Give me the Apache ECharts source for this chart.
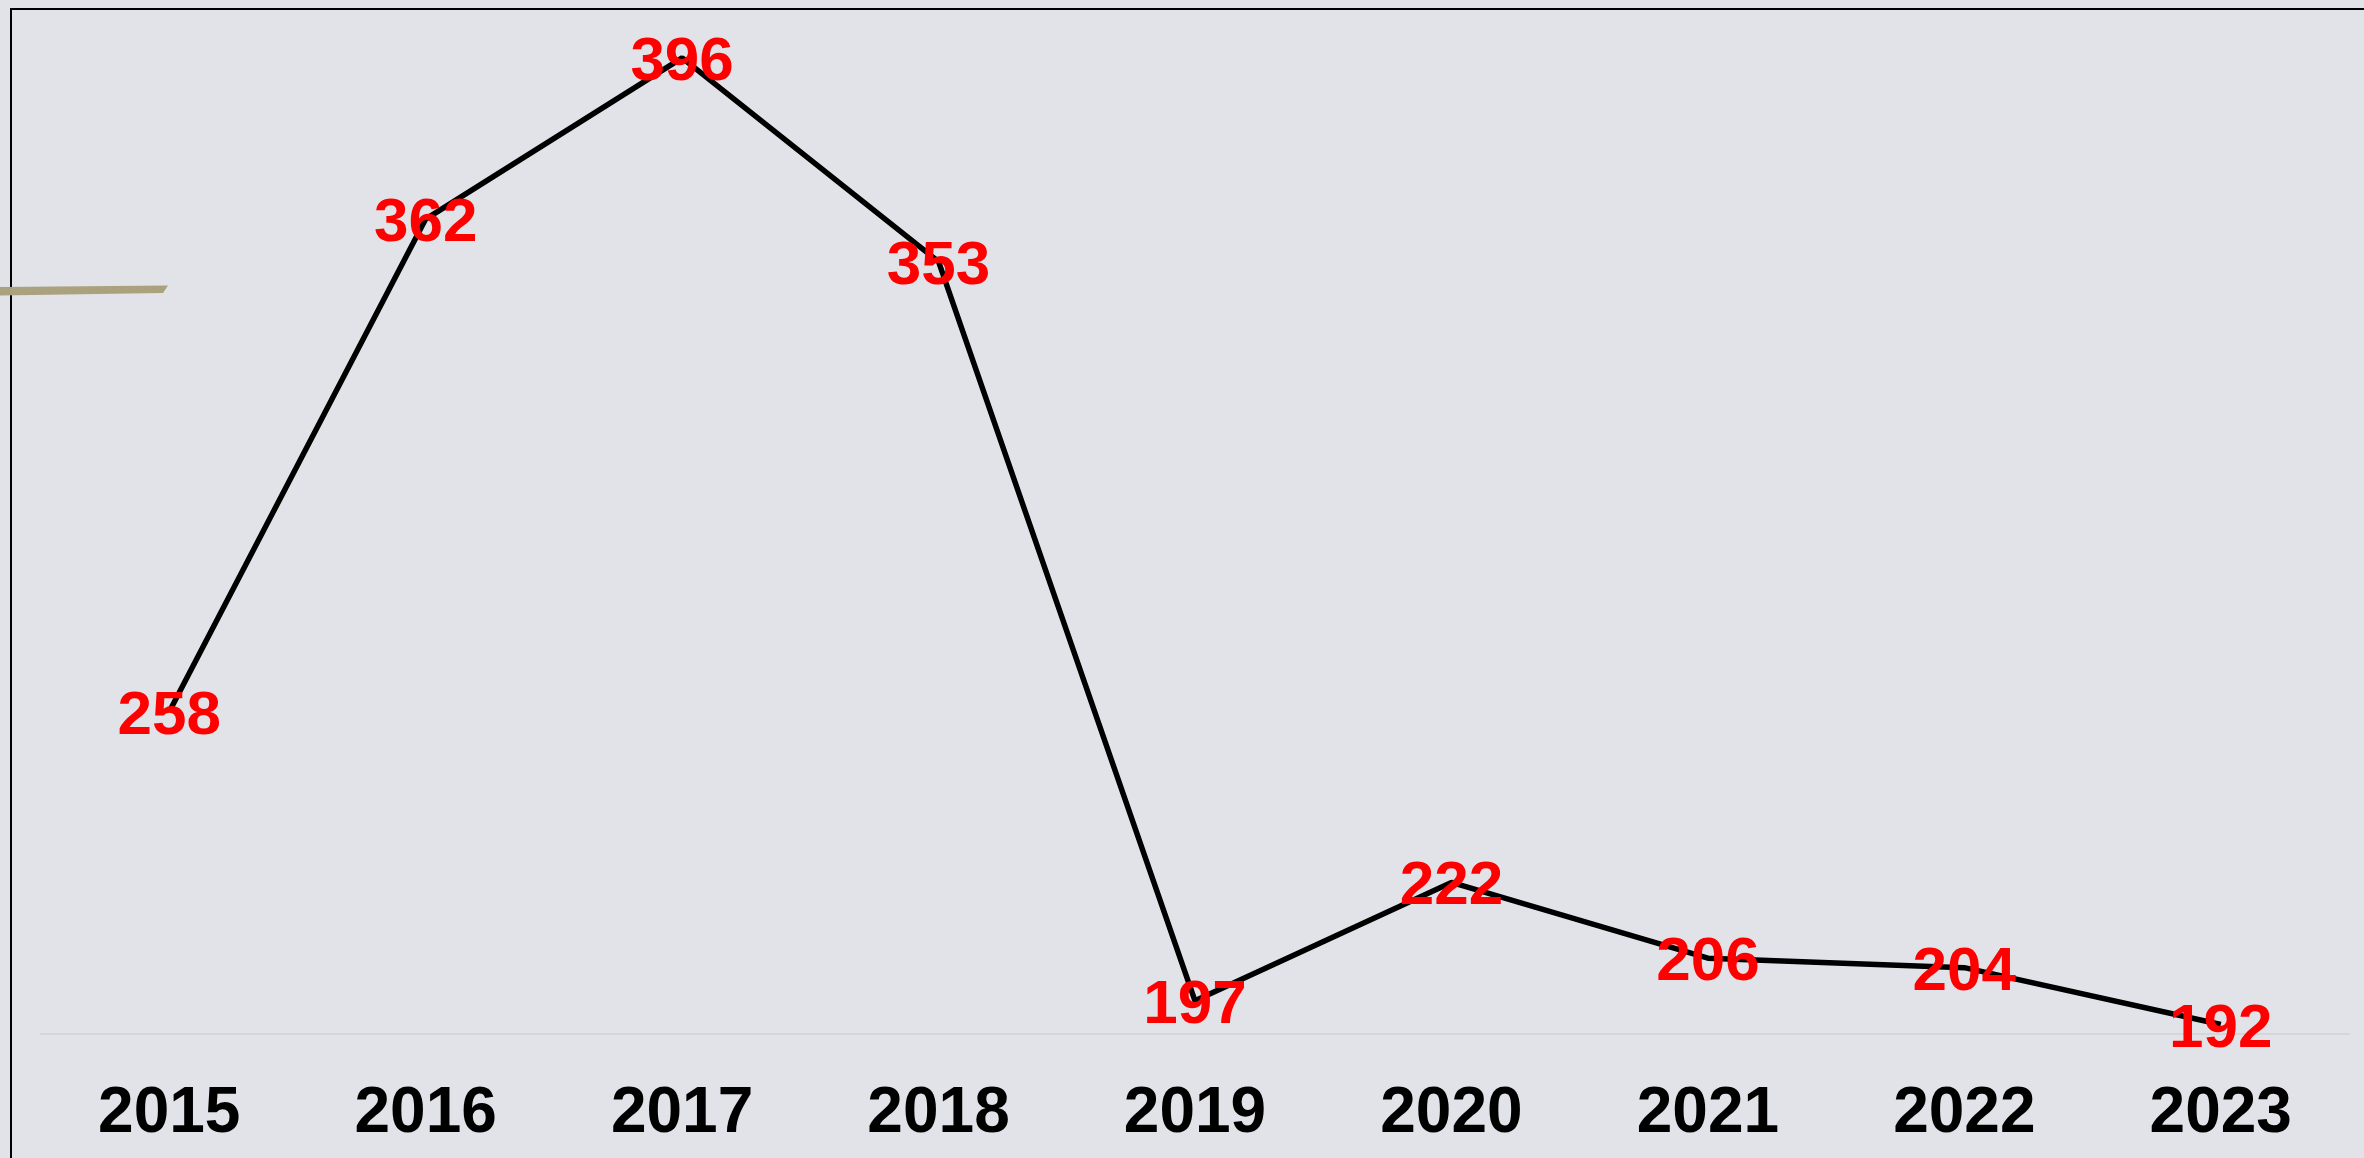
<!DOCTYPE html>
<html>
<head>
<meta charset="utf-8">
<title>line chart</title>
<script src="https://cdn.jsdelivr.net/npm/echarts@6/dist/echarts.min.js"></script>
<style>
    html, body { margin: 0; padding: 0; background: #e2e3e8; }
    #main { width: 2364px; height: 1158px; }
</style>
</head>
<body>
<div id="main"></div>
<script>
// 年份
var years = ['2015', '2016', '2017', '2018', '2019', '2020', '2021', '2022', '2023'];
// 数值
var counts = [258, 362, 396, 353, 197, 222, 206, 204, 192];

var myChart = echarts.init(document.getElementById('main'));

var option = {
    backgroundColor: '#e2e3e8',
    animation: false,
    grid: { // 控制图的大小
        left: 41,
        right: 15,
        top: 39,
        bottom: 124
    },
    graphic: [
        {   // 外框
            type: 'rect',
            shape: { x: 11, y: 9, width: 2400, height: 1200 },
            style: { fill: null, stroke: '#000', lineWidth: 2 },
            z: 1
        },
        {   // 左侧的横线
            type: 'polygon',
            shape: { points: [[0, 287], [168, 285.5], [163, 293], [0, 295.5]] },
            style: { fill: '#aaa27f' },
            z: 2
        }
    ],
    xAxis: {
        type: 'category',
        boundaryGap: true,
        data: years,
        axisLine: { show: true, lineStyle: { color: '#d6d6da', width: 2 } },
        axisTick: { show: false },
        axisLabel: {
            margin: 48,
            color: '#000',
            fontSize: 64,
            fontWeight: 'bold',
            fontFamily: 'Liberation Sans, Arial, sans-serif'
        }
    },
    yAxis: {
        type: 'value',
        min: 190,
        max: 400,
        show: false,
        splitLine: { show: false }
    },
    series: [{
        type: 'line',
        data: counts,
        symbol: 'circle',
        symbolSize: 1,
        itemStyle: { color: 'rgba(0,0,0,0)' },
        lineStyle: { color: '#000', width: 5.5 },
        label: {
            show: true,
            position: 'inside',
            offset: [0, 5],
            color: '#ff0000',
            fontSize: 62,
            fontWeight: 'bold',
            fontFamily: 'Liberation Sans, Arial, sans-serif'
        },
        z: 3
    }]
};
// 使用刚指定的配置项和数据显示图表。
myChart.setOption(option);
</script>
</body>
</html>
